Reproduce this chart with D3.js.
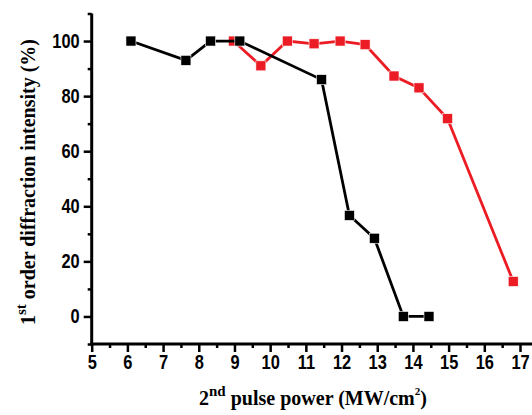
<!DOCTYPE html>
<html><head><meta charset="utf-8">
<script src="https://cdn.jsdelivr.net/npm/d3@7"></script>
<style>html,body{margin:0;padding:0;background:#fff;}svg{display:block;}</style>
</head><body>
<svg id="c" width="532" height="415"></svg>
<script>
const blackX = [6.10, 7.64, 8.33, 9.15, 11.44, 12.22, 12.92, 13.73, 14.45];
const blackY = [100, 93, 100, 100, 86, 36.7, 28.4, 0, 0];
const redX = [8.97, 9.74, 10.48, 11.23, 11.96, 12.66, 13.47, 14.17, 14.97, 16.81];
const redY = [100, 91, 100, 99, 100, 98.7, 87.3, 83, 71.8, 12.7];
const xMajor = [5, 6, 7, 8, 9, 10, 11, 12, 13, 14, 15, 16, 17];
const xMinor = [5.5, 6.5, 7.5, 8.5, 9.5, 10.5, 11.5, 12.5, 13.5, 14.5, 15.5, 16.5];
const yMajor = [0, 20, 40, 60, 80, 100];
const yMinor = [-10, 10, 30, 50, 70, 90, 110];

const svg = d3.select("#c");
const x = d3.scaleLinear().domain([5, 17]).range([91.7, 520]);
const y = d3.scaleLinear().domain([-10, 110]).range([344, 13.5]);
const x0 = x(5), y0 = y(-10);

function styleLabels(g) {
  g.selectAll(".tick text").attr("font-family", "Liberation Sans, Arial, sans-serif")
    .attr("font-weight", "bold").attr("font-size", 20).attr("fill", "#000")
    .each(function () {
      const w = this.getComputedTextLength();
      d3.select(this).attr("textLength", w * 0.82).attr("lengthAdjust", "spacingAndGlyphs");
    });
}

// y axis
const gy = svg.append("g").attr("transform", `translate(${x0},0)`);
gy.call(d3.axisLeft(y).tickValues(yMajor).tickSize(8).tickPadding(4).tickFormat(d3.format("d")));
gy.selectAll(".domain").remove();
gy.selectAll(".tick line").attr("stroke", "#000").attr("stroke-width", 2.5);
styleLabels(gy);
const gy2 = svg.append("g").attr("transform", `translate(${x0},0)`);
gy2.call(d3.axisLeft(y).tickValues(yMinor).tickSize(4).tickFormat(""));
gy2.selectAll(".domain").remove();
gy2.selectAll(".tick line").attr("stroke", "#000").attr("stroke-width", 2.5);

// x axis
const gx = svg.append("g").attr("transform", `translate(0,${y0})`);
gx.call(d3.axisBottom(x).tickValues(xMajor).tickSize(8).tickPadding(3).tickFormat(d3.format("d")));
gx.selectAll(".domain").remove();
gx.selectAll(".tick line").attr("stroke", "#000").attr("stroke-width", 2.5);
styleLabels(gx);
const gx2 = svg.append("g").attr("transform", `translate(0,${y0})`);
gx2.call(d3.axisBottom(x).tickValues(xMinor).tickSize(4).tickFormat(""));
gx2.selectAll(".domain").remove();
gx2.selectAll(".tick line").attr("stroke", "#000").attr("stroke-width", 2.5);

// axis lines
svg.append("line").attr("x1", x0).attr("x2", x0).attr("y1", y(110)).attr("y2", y0 + 1.5)
  .attr("stroke", "#000").attr("stroke-width", 3);
svg.append("line").attr("x1", x0 - 1.5).attr("x2", 532).attr("y1", y0).attr("y2", y0)
  .attr("stroke", "#000").attr("stroke-width", 3);

// series
const line = d3.line().x(d => x(d[0])).y(d => y(d[1]));
function series(xs, ys, color) {
  const pts = xs.map((v, i) => [v, ys[i]]);
  svg.append("path").datum(pts).attr("d", line).attr("fill", "none")
    .attr("stroke", color).attr("stroke-width", 2.8);
  svg.append("g").selectAll("rect").data(pts).join("rect")
    .attr("x", d => x(d[0]) - 5).attr("y", d => y(d[1]) - 5)
    .attr("width", 10).attr("height", 10).attr("fill", color)
    .attr("stroke", "#fff").attr("stroke-width", 0.6);
}
series(redX, redY, "#ec1c24");
series(blackX, blackY, "#000");

// titles
const serif = "Liberation Serif, Times New Roman, serif";
const xt = svg.append("text").attr("x", 313).attr("y", 405).attr("text-anchor", "middle")
  .attr("font-family", serif).attr("font-weight", "bold").attr("font-size", 20).attr("fill", "#000");
xt.append("tspan").text("2");
xt.append("tspan").attr("dy", -9).attr("font-size", 15).text("nd");
xt.append("tspan").attr("dy", 9).text(" pulse power (MW/cm");
xt.append("tspan").attr("dy", -10).attr("font-size", 11).text("2");
xt.append("tspan").attr("dy", 10).text(")");

const yt = svg.append("text").attr("transform", "translate(35,182) rotate(-90)").attr("text-anchor", "middle")
  .attr("font-family", serif).attr("font-weight", "bold").attr("font-size", 20).attr("fill", "#000");
yt.append("tspan").text("1");
yt.append("tspan").attr("dy", -9).attr("font-size", 15).text("st");
yt.append("tspan").attr("dy", 9).text(" order diffraction intensity (%)");
</script>
</body></html>
